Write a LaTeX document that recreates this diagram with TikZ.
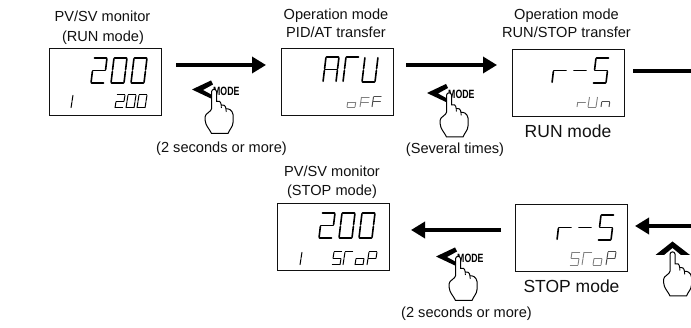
\documentclass[tikz,border=0pt]{standalone}
\usepackage{fontspec}
\setmainfont{Liberation Sans}
\usetikzlibrary{arrows.meta}
\definecolor{ink}{HTML}{111111}
\definecolor{dimseg}{HTML}{808080}
\tikzset{
  x=1pt,y=-1pt,
  panel/.style={draw=ink,line width=1pt,minimum width=112pt,minimum height=67pt,inner sep=0pt,outer sep=0pt},
  caption/.style={font=\fontsize{14.6}{16}\selectfont,text=ink,anchor=base,inner sep=0pt},
  biglabel/.style={font=\fontsize{17.5}{20}\selectfont,text=ink,anchor=base,inner sep=0pt},
  keylabel/.style={font=\bfseries\fontsize{12}{13}\selectfont,text=black,anchor=base west,inner sep=0pt},
  bigarrow/.style={line width=3.4pt,draw=black,-{Triangle[length=14pt,width=16pt]}},
  bigline/.style={line width=3.4pt,draw=black},
  seg/.style={line cap=round,line join=round},
  bigdigit/.style={x={(13pt,0pt)},y={(3pt,25pt)},line width=1.6pt,black},
  smalldigit/.style={x={(8pt,0pt)},y={(2pt,13pt)},line width=1pt,black},
  lowdigit/.style={x={(8pt,0pt)},y={(1.5pt,10pt)},line width=.9pt,dimseg},
  smalldim/.style={x={(8pt,0pt)},y={(2pt,13pt)},line width=.9pt,dimseg},
  smalldark/.style={x={(8pt,0pt)},y={(2pt,13pt)},line width=1pt,black!70},
  lowdark/.style={x={(8pt,0pt)},y={(1.5pt,10pt)},line width=1pt,black!70},
  handline/.style={draw=black,fill=white,line width=1pt,line join=round},
}
% seven-segment parts, unit cell with origin bottom-left
\newcommand{\sgA}{\draw[seg] (.04,1)--(.96,1);}
\newcommand{\sgB}{\draw[seg] (1,.97)--(1,.53);}
\newcommand{\sgC}{\draw[seg] (1,.47)--(1,.03);}
\newcommand{\sgD}{\draw[seg] (.04,0)--(.96,0);}
\newcommand{\sgE}{\draw[seg] (0,.47)--(0,.03);}
\newcommand{\sgF}{\draw[seg] (0,.97)--(0,.53);}
\newcommand{\sgG}{\draw[seg] (.04,.5)--(.96,.5);}
\newcommand{\gTwo}{\sgA\sgB\sgG\sgE\sgD}
\newcommand{\gZero}{\sgA\sgB\sgC\sgD\sgE\sgF}
\newcommand{\gOne}{\sgB\sgC}
\newcommand{\gA}{\sgA\sgB\sgC\sgE\sgF\sgG}
\newcommand{\gT}{\sgA\sgE\sgF}
\newcommand{\gU}{\sgB\sgC\sgD\sgE\sgF}
\newcommand{\gLo}{\sgC\sgD\sgE\sgG}
\newcommand{\gF}{\sgA\sgE\sgF\sgG}
\newcommand{\gR}{\sgE\sgG}
\newcommand{\gDash}{\sgG}
\newcommand{\gS}{\sgA\sgC\sgD\sgF\sgG}
\newcommand{\gN}{\sgC\sgE\sgG}
\newcommand{\gP}{\sgA\sgB\sgE\sgF\sgG}
\newcommand{\dig}[4]{\begin{scope}[shift={(#2,#3)},#1]#4\end{scope}}
% hand with fingertip at the local origin
\newcommand{\handat}[2]{%
  \begin{scope}[shift={(#1,#2)}]
    \path[handline] (-2.4,2) .. controls (-2.4,-.8) and (2.5,-.8) .. (2.5,2) -- (2.5,12)
      .. controls (4.5,10.5) and (7,12) .. (7.2,15.5)
      .. controls (9,14.5) and (11.8,16) .. (12,19.5)
      .. controls (14,18.5) and (18.5,20.5) .. (19,25)
      -- (19,33) .. controls (19,37) and (15.5,40) .. (14,44) -- (-2.5,44)
      .. controls (-4,40) and (-8.8,36) .. (-8.8,31) -- (-8.8,27)
      .. controls (-8.8,24) and (-2.4,22) .. (-2.4,19) -- cycle;
    \draw[line width=.8pt] (7.2,15.5)--(7.4,18.5) (12,19.5)--(12.2,22.5);
  \end{scope}}
\newcommand{\leftkey}[3]{%
  \fill[black] (#1-22,#2) -- (#1-3,#2-9) -- (#1-1,#2-5) -- (#1-11,#2+.5) -- (#1-1,#2+6) -- (#1-3,#2+9) -- cycle;
  \node[keylabel] (#3) at (#1-1,#2+6) {\scalebox{.73}[1]{MODE}};
  \handat{#1}{#2}}
\begin{document}
\begin{tikzpicture}
\useasboundingbox (0,0) rectangle (691,328);
\fill[white] (0,0) rectangle (691,328);
% panels
\node[panel] (b1) at (105,82.5) {};
\node[panel] (b2) at (337,82.5) {};
\node[panel] (b3) at (568,83.5) {};
\node[panel] (b4) at (333.5,237.5) {};
\node[panel] (b5) at (571.5,238.5) {};
% captions
\node[caption] (t1a) at (102.5,22) {PV/SV monitor};
\node[caption] (t1b) at (103,41.5) {(RUN mode)};
\node[caption] (t2a) at (336,20) {Operation mode};
\node[caption] (t2b) at (336,38) {PID/AT transfer};
\node[caption] (t3a) at (566.5,20) {Operation mode};
\node[caption] (t3b) at (566.5,38) {RUN/STOP transfer};
\node[biglabel] (t3c) at (568,138) {RUN mode};
\node[caption] (t4a) at (332,177) {PV/SV monitor};
\node[caption] (t4b) at (332,196) {(STOP mode)};
\node[biglabel] (t5c) at (571.5,292.5) {STOP mode};
\node[caption] (t6) at (221.5,152.5) {(2 seconds or more)};
\node[caption] (t7) at (455,154) {(Several times)};
\node[caption] (t8) at (466.5,318) {(2 seconds or more)};
% arrows
\coordinate (a1s) at (176,65); \coordinate (a1e) at (266,65);
\coordinate (a2s) at (406,65); \coordinate (a2e) at (497,65);
\coordinate (a3s) at (633,71); \coordinate (a3e) at (691,71);
\coordinate (a4s) at (501,230); \coordinate (a4e) at (411,230);
\coordinate (a5s) at (691,226); \coordinate (a5e) at (635,226);
\draw[bigarrow] (a1s) -- (a1e);
\draw[bigarrow] (a2s) -- (a2e);
\draw[bigline] (a3s) -- (a3e);
\draw[bigarrow] (a4s) -- (a4e);
\draw[bigarrow] (a5s) -- (a5e);
% displays, box 1
\dig{bigdigit}{91}{83}{\gTwo}\dig{bigdigit}{111}{83}{\gZero}\dig{bigdigit}{131}{83}{\gZero}
\dig{smalldigit}{63}{108}{\gOne}
\dig{smalldigit}{115}{108}{\gTwo}\dig{smalldigit}{126}{108}{\gZero}\dig{smalldigit}{137}{108}{\gZero}
% box 2
\dig{bigdigit}{323}{82}{\gA}\dig{bigdigit}{343}{82}{\gT}\dig{bigdigit}{362}{82}{\gU}
\dig{lowdigit}{347}{107}{\gLo}\dig{lowdigit}{360}{107}{\gF}\dig{lowdark}{372}{107}{\gF}
% box 3
\dig{bigdigit}{552}{83}{\gR}\dig{bigdigit}{572}{83}{\gDash}\dig{bigdigit}{593}{83}{\gS}
\dig{lowdigit}{577}{107}{\gR}\dig{lowdigit}{588}{107}{\gU}\dig{lowdark}{601}{107}{\gN}
% box 4
\dig{bigdigit}{319}{238}{\gTwo}\dig{bigdigit}{339}{238}{\gZero}\dig{bigdigit}{359}{238}{\gZero}
\dig{smalldigit}{292}{265}{\gOne}
\dig{smalldigit}{332}{265}{\gS}\dig{smalldigit}{343}{265}{\gT}\dig{smalldigit}{355}{265}{\gLo}\dig{smalldigit}{367}{265}{\gP}
% box 5
\dig{bigdigit}{557}{240}{\gR}\dig{bigdigit}{577}{240}{\gDash}\dig{bigdigit}{598}{240}{\gS}
\dig{smalldim}{570}{265}{\gS}\dig{smalldim}{582}{265}{\gT}\dig{smalldim}{593}{265}{\gLo}\dig{smalldark}{606}{265}{\gP}
% keys
\leftkey{214}{89.5}{k1}
\leftkey{449}{93}{k2}
\leftkey{458}{256.5}{k3}
\fill[black] (672.5,241.5) -- (690,255) -- (681,255) -- (672.5,248) -- (664,255) -- (655.5,255) -- cycle;
\handat{672.5}{252}
\end{tikzpicture}
\end{document}
